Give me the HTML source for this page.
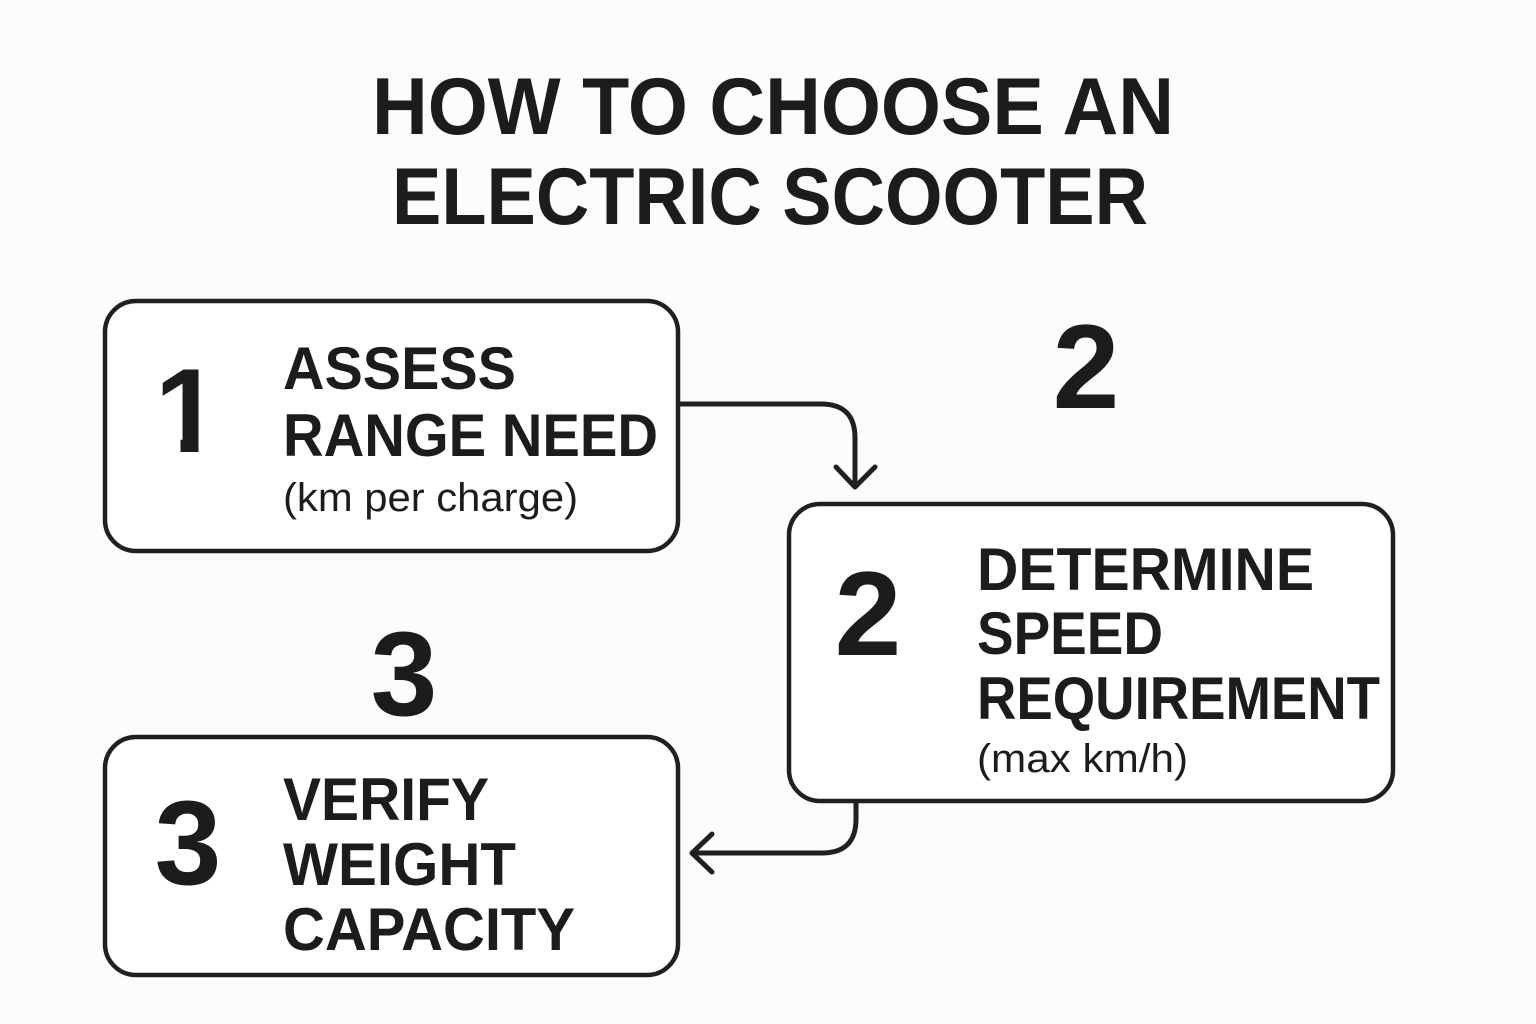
<!DOCTYPE html>
<html><head><meta charset="utf-8"><style>
html,body{margin:0;padding:0;background:#fcfcfc}
svg{display:block}
text{font-family:"Liberation Sans",sans-serif;fill:#1c1c1c}
.b{font-weight:700}
</style></head><body>
<svg width="1536" height="1024" viewBox="0 0 1536 1024" xmlns="http://www.w3.org/2000/svg">
<defs>
<clipPath id="one"><path d="M160 360H198.500V460H180.500V436H160Z"/></clipPath>
</defs>
<rect width="1536" height="1024" fill="#fcfcfc"/>
<text class="b" x="773" y="134" font-size="81" text-anchor="middle" textLength="802" lengthAdjust="spacingAndGlyphs">HOW TO CHOOSE AN</text>
<text class="b" x="770" y="224" font-size="81" text-anchor="middle" textLength="756" lengthAdjust="spacingAndGlyphs">ELECTRIC SCOOTER</text>
<g fill="#fff" stroke="#202020" stroke-width="4.5">
<rect x="105" y="301" width="573" height="250" rx="31"/>
<rect x="789" y="504" width="604" height="297" rx="31"/>
<rect x="105" y="737" width="573" height="238" rx="31"/>
</g>
<g fill="none" stroke="#202020" stroke-width="5" stroke-linecap="round" stroke-linejoin="round">
<path d="M680 404H821Q855 404 855 438V486" stroke-linecap="butt"/>
<path d="M836 467L855 487L875 467"/>
<path d="M856 803V819Q856 853 822 853H693" stroke-linecap="butt"/>
<path d="M712 834L692 853L712 872"/>
</g>
<text class="b" x="154.500" y="452" font-size="120" clip-path="url(#one)">1</text>
<text class="b" x="1086" y="408" font-size="120" text-anchor="middle">2</text>
<text class="b" x="868" y="655" font-size="120" text-anchor="middle">2</text>
<text class="b" x="404" y="715" font-size="120" text-anchor="middle">3</text>
<text class="b" x="188" y="884" font-size="120" text-anchor="middle">3</text>
<text class="b" x="283" y="389" font-size="60" textLength="233" lengthAdjust="spacingAndGlyphs">ASSESS</text>
<text class="b" x="283" y="456" font-size="60" textLength="375" lengthAdjust="spacingAndGlyphs">RANGE NEED</text>
<text class="b" x="977" y="590" font-size="60" textLength="337" lengthAdjust="spacingAndGlyphs">DETERMINE</text>
<text class="b" x="977" y="654" font-size="60" textLength="186" lengthAdjust="spacingAndGlyphs">SPEED</text>
<text class="b" x="977" y="719" font-size="60" textLength="403" lengthAdjust="spacingAndGlyphs">REQUIREMENT</text>
<text class="b" x="283" y="820" font-size="60" textLength="206" lengthAdjust="spacingAndGlyphs">VERIFY</text>
<text class="b" x="283" y="885" font-size="60" textLength="233" lengthAdjust="spacingAndGlyphs">WEIGHT</text>
<text class="b" x="283" y="950" font-size="60" textLength="292" lengthAdjust="spacingAndGlyphs">CAPACITY</text>
<text x="283" y="511" font-size="40" textLength="295" lengthAdjust="spacingAndGlyphs">(km per charge)</text>
<text x="977" y="772" font-size="40" textLength="211" lengthAdjust="spacingAndGlyphs">(max km/h)</text>
</svg>
</body></html>
